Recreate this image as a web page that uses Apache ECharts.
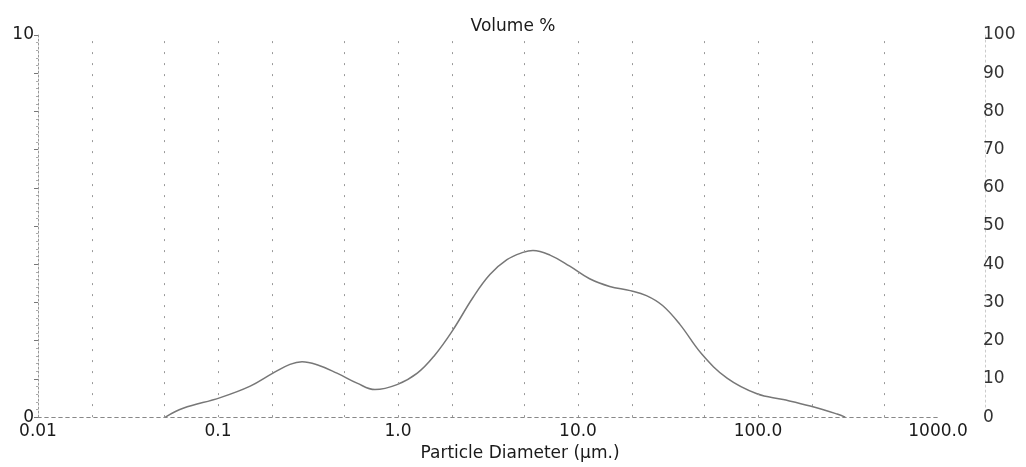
<!DOCTYPE html>
<html>
<head>
<meta charset="utf-8">
<script src="https://cdn.jsdelivr.net/npm/echarts@6/dist/echarts.min.js"></script>
<style>
  html, body { margin: 0; background: #fff; }
  #chart { width: 1026px; height: 467px; }
</style>
</head>
<body>
<div id="chart"></div>
<script>
// particle diameter (µm) and volume %
const diameter = [0.051, 0.064, 0.103, 0.151, 0.202, 0.251, 0.293, 0.355, 0.458, 0.592, 0.745, 0.987, 1.28, 1.6, 2.0, 2.61, 3.24, 4.03, 4.95, 5.62, 6.99, 9.0, 11.6, 15.0, 19.5, 24.0, 29.5, 36.9, 48.7, 67.3, 98.7, 138, 195, 275, 305];
const volume = [0, 0.23, 0.51, 0.81, 1.15, 1.38, 1.45, 1.37, 1.15, 0.89, 0.72, 0.85, 1.15, 1.62, 2.25, 3.13, 3.73, 4.12, 4.31, 4.36, 4.24, 3.95, 3.62, 3.42, 3.31, 3.18, 2.92, 2.42, 1.65, 1.02, 0.61, 0.46, 0.29, 0.08, 0];

// dotted vertical lines
const gridLines = [0.02, 0.05, 0.1, 0.2, 0.5, 1, 2, 5, 10, 20, 50, 100, 200, 500];
// x tick labels, by decade (log10)
const xTickLabels = { '-2': '0.01', '-1': '0.1', '0': '1.0', '1': '10.0', '2': '100.0', '3': '1000.0' };
// left axis shows only the ends
const leftTickLabels = [0, 10];

const font = 'DejaVu Sans, sans-serif';
const textColor = '#1a1a1a';

let myChart = echarts.init(document.getElementById('chart'));

myChart.setOption({
  animation: false,
  title: {
    text: 'Volume %',
    left: 'center',
    top: 13,
    textStyle: { fontFamily: font, fontSize: 17, fontWeight: 'normal', color: textColor }
  },
  grid: { left: 38, right: 88, top: 35, bottom: 44 },
  xAxis: [
    {
      type: 'log',
      logBase: 10,
      min: 0.01,
      max: 1000,
      name: 'Particle Diameter (µm.)',
      nameLocation: 'middle',
      nameGap: 26,
      nameTextStyle: { fontFamily: font, fontSize: 17, color: textColor, padding: [0, 0, 0, 64] },
      axisLine: { lineStyle: { color: '#888', type: [3, 4], width: 1 } },
      axisTick: { show: false },
      splitLine: { show: false },
      axisLabel: {
        margin: 6,
        fontFamily: font,
        fontSize: 17,
        color: textColor,
        formatter: v => xTickLabels[String(Math.round(Math.log10(v)))] || ''
      }
    },
    {
      type: 'log',
      logBase: 10,
      min: 0.01,
      max: 1000,
      position: 'top',
      axisLine: { lineStyle: { color: '#888', type: [3, 4], width: 1 } },
      axisTick: { show: false },
      axisLabel: { show: false },
      splitLine: { show: false }
    }
  ],
  yAxis: [
    {
      type: 'value',
      min: 0,
      max: 10,
      interval: 1,
      axisLine: { show: true, lineStyle: { color: '#999', type: [2, 2] } },
      axisTick: { show: true, length: 4, lineStyle: { color: '#777' } },
      minorTick: { show: true, splitNumber: 5, length: 2, lineStyle: { color: '#aaa' } },
      splitLine: { show: false },
      axisLabel: {
        margin: 4,
        fontFamily: font,
        fontSize: 17,
        color: textColor,
        formatter: v => (leftTickLabels.includes(v) ? String(v) : '')
      }
    },
    {
      type: 'value',
      position: 'right',
      offset: 47,
      min: 0,
      max: 100,
      interval: 10,
      axisLine: { show: true, lineStyle: { color: '#ccc', type: [2, 3] } },
      axisTick: { show: false },
      splitLine: { show: false },
      axisLabel: {
        margin: -2,
        verticalAlign: 'middle',
        padding: [0, 0, 12, 0],
        fontFamily: font,
        fontSize: 17,
        color: '#333'
      }
    }
  ],
  series: [
    {
      type: 'line',
      data: diameter.map((d, i) => [d, volume[i]]),
      smooth: 0.4,
      showSymbol: false,
      lineStyle: { color: '#777', width: 1.5 },
      markLine: {
        silent: true,
        symbol: 'none',
        label: { show: false },
        lineStyle: { color: '#999', type: [2, 9], width: 1 },
        data: gridLines.map(v => ({ xAxis: v }))
      }
    }
  ]
});
</script>
</body>
</html>
